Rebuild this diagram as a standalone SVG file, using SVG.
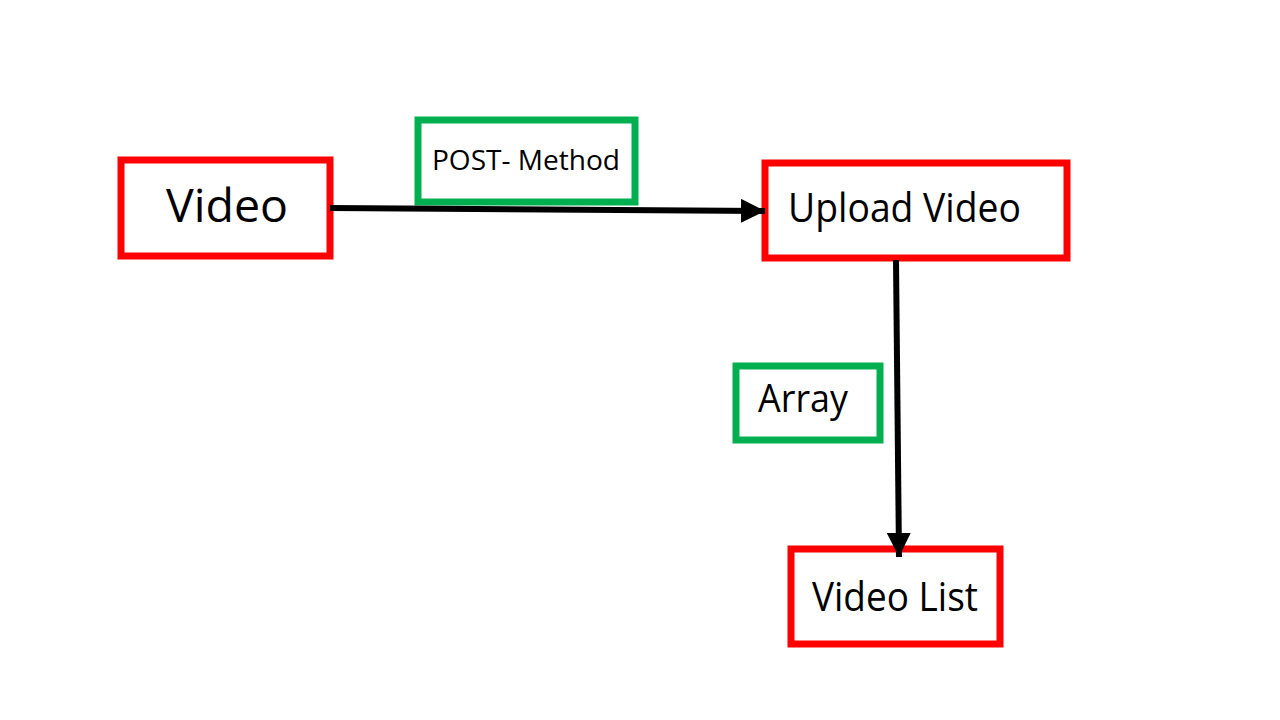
<svg xmlns="http://www.w3.org/2000/svg" width="1280" height="720" viewBox="0 0 1280 720">
<style>
.node{fill:#fff;stroke:#ff0000;stroke-width:7}
.lbl{fill:#fff;stroke:#00b050;stroke-width:7}
text{font-family:"Open Sans","Noto Sans",sans-serif;fill:#000}
.conn{stroke:#000;stroke-width:6;fill:none}
</style>
<defs>
<marker id="ah" markerUnits="userSpaceOnUse" markerWidth="26" markerHeight="26" refX="24" refY="12" orient="auto">
<path d="M0,0 L24,12 L0,24 Z" fill="#000"/>
</marker>
</defs>
<rect width="1280" height="720" fill="#fff"/>
<g id="video">
<rect class="node" x="121" y="160" width="209" height="96"/>
<text x="166" y="222" font-size="46" textLength="122" lengthAdjust="spacingAndGlyphs">Video</text>
</g>
<g id="upload">
<rect class="node" x="765" y="163" width="302" height="95"/>
<text x="788" y="222" font-size="40" textLength="233" lengthAdjust="spacingAndGlyphs">Upload Video</text>
</g>
<g id="videolist">
<rect class="node" x="791" y="549" width="209" height="95"/>
<text x="812" y="611" font-size="41" textLength="166" lengthAdjust="spacingAndGlyphs">Video List</text>
</g>
<g id="post">
<rect class="lbl" x="418" y="120" width="217" height="82"/>
<text x="432" y="170" font-size="27" textLength="188" lengthAdjust="spacingAndGlyphs">POST- Method</text>
</g>
<g id="array">
<rect class="lbl" x="736" y="366" width="144" height="74"/>
<text x="758" y="412" font-size="39" textLength="90" lengthAdjust="spacingAndGlyphs">Array</text>
</g>
<g id="connectors">
<path class="conn" d="M330,208 L765,211" marker-end="url(#ah)"/>
<path class="conn" d="M896,260 L899,557" marker-end="url(#ah)"/>
</g>
</svg>
